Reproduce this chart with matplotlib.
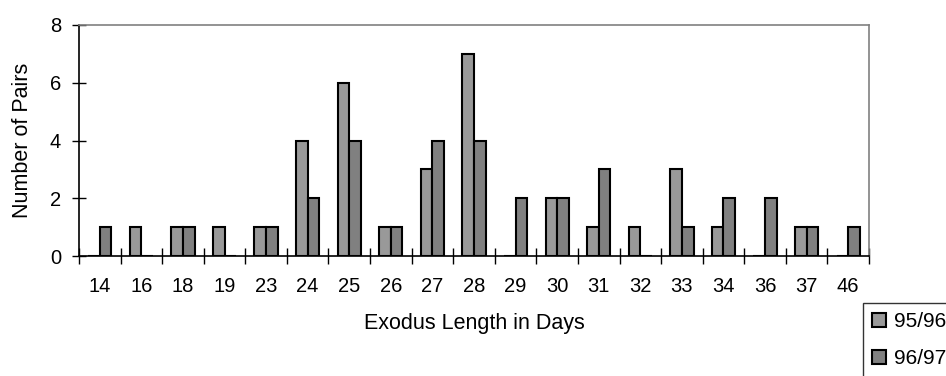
import numpy as np
import matplotlib.pyplot as plt

plt.rcParams['font.family'] = ['Liberation Sans', 'DejaVu Sans']

# exodus length categories and pair counts per season
days = ['14', '16', '18', '19', '23', '24', '25', '26', '27', '28',
        '29', '30', '31', '32', '33', '34', '36', '37', '46']
s9596 = [0, 1, 1, 1, 1, 4, 6, 1, 3, 7, 0, 2, 1, 1, 3, 1, 0, 1, 0]
s9697 = [1, 0, 1, 0, 1, 2, 4, 1, 4, 4, 2, 2, 3, 0, 1, 2, 2, 1, 1]

fig = plt.figure(figsize=(9.46, 3.76), dpi=100)
ax = fig.add_axes([79/946, 1 - 256/376, (869-79)/946, (256-25)/376])

x = np.arange(len(days))
w = 0.28
ax.bar(x - w/2, s9596, width=w, color='#999999', edgecolor='black', linewidth=1.5, label='95/96')
ax.bar(x + w/2, s9697, width=w, color='#808080', edgecolor='black', linewidth=1.5, label='96/97')

ax.set_xlim(-0.5, len(days) - 0.5)
ax.set_ylim(0, 8)
ax.set_yticks([0, 2, 4, 6, 8])
ax.set_xticks(x)
ax.set_xticklabels(days)
ax.set_xticks(np.arange(-0.5, len(days)), minor=True)
ax.tick_params(axis='x', which='major', length=0, labelsize=14.5, pad=15)
ax.tick_params(axis='x', which='minor', direction='inout', length=12, width=1, color='black')
ax.tick_params(axis='y', which='major', direction='inout', length=10, width=1, labelsize=14.5, pad=8)

for s in ['top', 'right']:
    ax.spines[s].set_color('#808080')
    ax.spines[s].set_linewidth(1.2)
for s in ['left', 'bottom']:
    ax.spines[s].set_color('black')
    ax.spines[s].set_linewidth(1.2)

ax.set_xlabel('Exodus Length in Days', fontsize=15.5, labelpad=12)
ax.set_ylabel('Number of Pairs', fontsize=15.5, labelpad=12)

leg = fig.legend(loc='upper left', bbox_to_anchor=(863/946, 1 - 303/376), fontsize=15,
                 frameon=True, fancybox=False, edgecolor='black', handlelength=0.67,
                 handleheight=0.67, handletextpad=0.38, labelspacing=0.85, borderpad=0.45,
                 borderaxespad=0)
leg.get_frame().set_linewidth(1)

fig.savefig('out.png', dpi=100)
